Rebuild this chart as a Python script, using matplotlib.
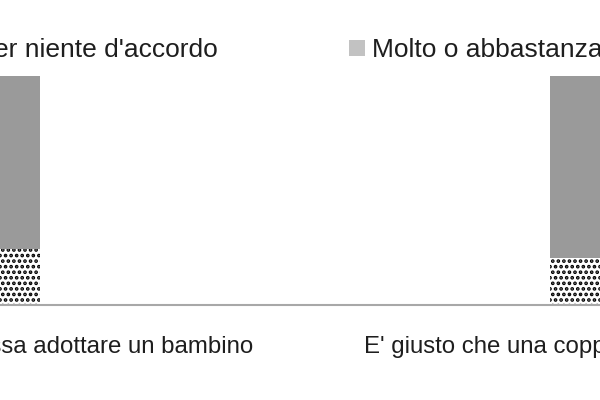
import matplotlib
matplotlib.use("Agg")
import matplotlib.pyplot as plt
from matplotlib.patches import Patch

# dati (valori percentuali, barre impilate al 100%)
categorie = [
    "E' giusto che una coppia omosessuale possa adottare un bambino",
    "E' giusto che una coppia omosessuale si sposi se lo desidera",
]
poco_per_niente = [24.5, 20.5]
molto_abbastanza = [75.5, 79.5]
voci_legenda = ["Poco o per niente d'accordo", "Molto o abbastanza d'accordo"]

plt.rcParams['font.family'] = ['Liberation Sans', 'DejaVu Sans']
plt.rcParams['hatch.linewidth'] = 1.8

W, H = 600, 400
FS_LEG = 19
FS_CAT = 17.3
GRIGIO = '#9a9a9a'
TESTO = '#1e1e1e'
PUNTI = '...'

fig = plt.figure(figsize=(W / 100, H / 100), dpi=100)
ax = fig.add_axes([0, 95 / H, 1, (305 - 76) / H])
pos = list(range(len(categorie)))

ax.set_xticks([])
ax.set_yticks([])
ax.set_ylim(0, 100)
for lato in ('top', 'left', 'right'):
    ax.spines[lato].set_visible(False)
ax.spines['bottom'].set_color('#a8a8a8')
ax.spines['bottom'].set_linewidth(1.5)

# etichette di categoria come testo (il grafico e' un ritaglio, i centri cadono fuori)
etichette = []
for p, c in zip(pos, categorie):
    t = ax.annotate(c, xy=(p, 0), xycoords=ax.get_xaxis_transform(),
                    xytext=(0, -48 * 0.72), textcoords='offset points',
                    ha='center', va='baseline', fontsize=FS_CAT, color=TESTO,
                    annotation_clip=False)
    etichette.append(t)

# scala orizzontale ricavata da bordi delle barre e fine della prima etichetta
fig.canvas.draw()
r = fig.canvas.get_renderer()
larg0 = etichette[0].get_window_extent(r).width
c0 = 253 - larg0 / 2
s = 590 - 2 * c0
larghezza = 2 * (40 - c0) / s
xmin = -c0 / s
ax.set_xlim(xmin, xmin + W / s)

ax.bar(pos, poco_per_niente, width=larghezza, color='white',
       edgecolor='black', hatch=PUNTI, linewidth=0)
ax.bar(pos, molto_abbastanza, bottom=poco_per_niente, width=larghezza,
       color=GRIGIO, linewidth=0)

maniglie = [Patch(facecolor='white', edgecolor='black', hatch=PUNTI, linewidth=0),
            Patch(facecolor='#c2c2c2', linewidth=0)]
leg = fig.legend(maniglie, voci_legenda, ncol=2, loc='center left',
                 bbox_to_anchor=(0, 1 - 50 / H), frameon=False, fontsize=FS_LEG,
                 handlelength=16 / 26.4, handleheight=15 / 26.4,
                 handletextpad=7 / 26.4, columnspacing=131 / 26.4,
                 labelcolor=TESTO)
fig.canvas.draw()
x_testo = leg.get_texts()[1].get_window_extent(r).x0
leg.set_bbox_to_anchor(((372 - x_testo) / W, 1 - 50 / H), transform=fig.transFigure)

fig.savefig('out.png', dpi=100)
